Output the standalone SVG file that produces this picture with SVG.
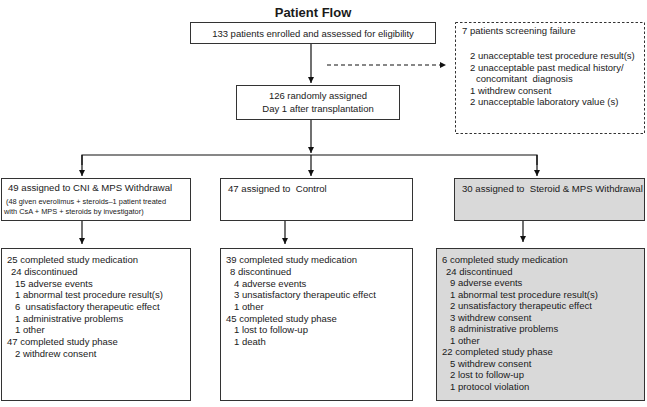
<svg xmlns="http://www.w3.org/2000/svg" width="647" height="407" viewBox="0 0 647 407">
<style>
text{font-family:"Liberation Sans",Arial,sans-serif;font-size:9.5px;fill:#1a1a1a;white-space:pre}
.title{font-size:13px;font-weight:bold}
.hd{font-size:9.6px}
.sm{font-size:7.4px}
.box{fill:#fff;stroke:#333;stroke-width:1}
.grey{fill:#d9d9d9;stroke:#333;stroke-width:1}
.dash{fill:#fff;stroke:#333;stroke-width:1;stroke-dasharray:2.5 2}
.ln{stroke:#111;stroke-width:1.2;fill:none}
</style>
<defs>
<marker id="ah" viewBox="0 0 8 8" refX="8" refY="4" markerWidth="6" markerHeight="6" markerUnits="userSpaceOnUse" orient="auto"><path d="M0,0L8,4L0,8z" fill="#111"/></marker>
</defs>
<rect width="647" height="407" fill="#fff"/>
<text class="title" x="313" y="17" text-anchor="middle">Patient Flow</text>
<g id="n-enrolled"><rect class="box" x="190.5" y="22.5" width="245" height="21"/><text x="313" y="37" text-anchor="middle">133 patients enrolled and assessed for eligibility</text></g>
<g id="n-screen"><rect class="dash" x="455.5" y="22.5" width="189" height="111"/>
<text x="462" y="34">7 patients screening failure</text>
<text x="470" y="59">2 unacceptable test procedure result(s)</text>
<text x="470" y="70.5">2 unacceptable past medical history/</text>
<text x="476" y="82" xml:space="preserve">concomitant  diagnosis</text>
<text x="470" y="93.5">1 withdrew consent</text>
<text x="470" y="105">2 unacceptable laboratory value (s)</text></g>
<g id="n-random"><rect class="box" x="236.5" y="85.5" width="163" height="34"/><text x="318" y="99" text-anchor="middle">126 randomly assigned</text><text x="318" y="112" text-anchor="middle">Day 1 after transplantation</text></g>
<g id="n-cni"><rect class="box" x="1.5" y="178.5" width="189" height="42"/>
<text class="hd" x="8" y="191">49 assigned to CNI &amp; MPS Withdrawal</text>
<text class="sm" x="6" y="204">(48 given everolimus + steroids–1 patient treated</text>
<text class="sm" x="4" y="214">with CsA + MPS + steroids by investigator)</text></g>
<g id="n-control"><rect class="box" x="220.5" y="178.5" width="192" height="42"/><text class="hd" x="228" y="192" xml:space="preserve">47 assigned to  Control</text></g>
<g id="n-steroid"><rect class="grey" x="454.5" y="178.5" width="190" height="42"/><text class="hd" x="462" y="192" xml:space="preserve">30 assigned to  Steroid &amp; MPS Withdrawal</text></g>
<g id="n-cni-out"><rect class="box" x="1.5" y="248.5" width="189" height="152"/>
<text x="7" y="263">25 completed study medication</text>
<text x="11" y="275">24 discontinued</text>
<text x="15" y="286.5">15 adverse events</text>
<text x="15" y="298">1 abnormal test procedure result(s)</text>
<text x="15" y="310" xml:space="preserve">6  unsatisfactory therapeutic effect</text>
<text x="15" y="321.5">1 administrative problems</text>
<text x="15" y="333">1 other</text>
<text x="7" y="345">47 completed study phase</text>
<text x="15" y="356.5">2 withdrew consent</text></g>
<g id="n-control-out"><rect class="box" x="220.5" y="248.5" width="192" height="152"/>
<text x="226" y="263">39 completed study medication</text>
<text x="230" y="275">8 discontinued</text>
<text x="234" y="286.5">4 adverse events</text>
<text x="234" y="298">3 unsatisfactory therapeutic effect</text>
<text x="234" y="310">1 other</text>
<text x="226" y="321.5">45 completed study phase</text>
<text x="234" y="333">1 lost to follow-up</text>
<text x="234" y="345">1 death</text></g>
<g id="n-steroid-out"><rect class="grey" x="436.5" y="248.5" width="208" height="152"/>
<text x="442" y="263">6 completed study medication</text>
<text x="446" y="274.5">24 discontinued</text>
<text x="450" y="286">9 adverse events</text>
<text x="450" y="297.5">1 abnormal test procedure result(s)</text>
<text x="450" y="309">2 unsatisfactory therapeutic effect</text>
<text x="450" y="320.5">3 withdrew consent</text>
<text x="450" y="332">8 administrative problems</text>
<text x="450" y="343.5">1 other</text>
<text x="442" y="355">22 completed study phase</text>
<text x="450" y="366.5">5 withdrew consent</text>
<text x="450" y="378">2 lost to follow-up</text>
<text x="450" y="389.5">1 protocol violation</text></g>
<g id="connectors">
<line class="ln" x1="311" y1="44" x2="311" y2="83" marker-end="url(#ah)"/>
<line class="ln" x1="327" y1="65" x2="446" y2="65" stroke-dasharray="4 3" marker-end="url(#ah)"/>
<line class="ln" x1="311" y1="120" x2="311" y2="153" marker-end="url(#ah)"/>
<polyline class="ln" points="82,165 82,155 537,155 537,165"/>
<line class="ln" x1="82" y1="155" x2="82" y2="176" marker-end="url(#ah)"/>
<line class="ln" x1="311" y1="155" x2="311" y2="176" marker-end="url(#ah)"/>
<line class="ln" x1="537" y1="155" x2="537" y2="176" marker-end="url(#ah)"/>
<line class="ln" x1="82" y1="221" x2="82" y2="244" marker-end="url(#ah)"/>
<line class="ln" x1="285" y1="221" x2="285" y2="244" marker-end="url(#ah)"/>
<line class="ln" x1="523" y1="221" x2="523" y2="242" marker-end="url(#ah)"/>
</g>
</svg>
